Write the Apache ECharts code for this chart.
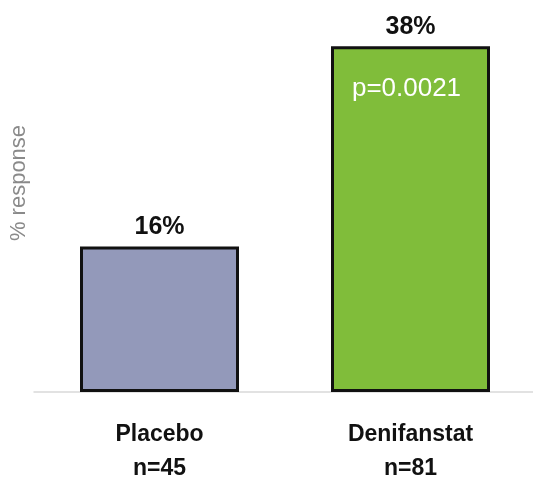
<!DOCTYPE html>
<html>
<head>
<meta charset="utf-8">
<script src="https://cdn.jsdelivr.net/npm/echarts@6/dist/echarts.min.js"></script>
<style>
  html, body { margin: 0; padding: 0; background: #fff; }
  #chart { width: 533px; height: 480px; }
</style>
</head>
<body>
<div id="chart"></div>
<script>
// Response rate by treatment arm
const arms = ['Placebo', 'Denifanstat'];
const armSizes = ['n=45', 'n=81'];
const responsePct = [16, 38];
const armColors = ['#9399ba', '#80bd3a'];
const pValueText = 'p=0.0021';

const FONT = '"Liberation Sans", Arial, sans-serif';

const chart = echarts.init(document.getElementById('chart'));

chart.setOption({
  animation: false,
  grid: { left: 34, right: -3, top: 28, bottom: 88, outerBoundsMode: 'none', containLabel: false },
  xAxis: {
    type: 'category',
    data: arms,
    axisLine: { lineStyle: { color: '#d9d9d9', width: 1.5 } },
    axisTick: { show: false },
    axisLabel: {
      margin: 26,
      color: '#111',
      fontFamily: FONT,
      fontWeight: 'bold',
      fontSize: 23,
      lineHeight: 34,
      formatter: (v, i) => v + '\n' + armSizes[i]
    }
  },
  yAxis: {
    type: 'value',
    min: 0,
    max: 40,
    axisLine: { show: false },
    axisTick: { show: false },
    axisLabel: { show: false },
    splitLine: { show: false },
    name: '% response',
    nameLocation: 'middle',
    nameRotate: 90,
    nameGap: 4,
    nameTextStyle: {
      color: '#8a8a8a',
      fontFamily: FONT,
      fontSize: 22,
      padding: [0, 0, 0, 54]
    }
  },
  series: [{
    type: 'bar',
    barWidth: 159,
    data: responsePct.map((v, i) => ({
      value: v,
      itemStyle: { color: armColors[i] }
    })),
    itemStyle: { borderColor: '#111', borderWidth: 3 },
    label: {
      show: true,
      position: 'top',
      distance: 7,
      color: '#111',
      fontFamily: FONT,
      fontWeight: 'bold',
      fontSize: 25,
      formatter: p => p.value + '%'
    },
    markPoint: {
      symbol: 'rect',
      symbolSize: 0,
      data: [{ coord: [arms[1], responsePct[1]] }],
      label: {
        show: true,
        formatter: pValueText,
        color: '#fff',
        fontFamily: FONT,
        fontSize: 26,
        offset: [-4, 43]
      }
    }
  }]
});
</script>
</body>
</html>
